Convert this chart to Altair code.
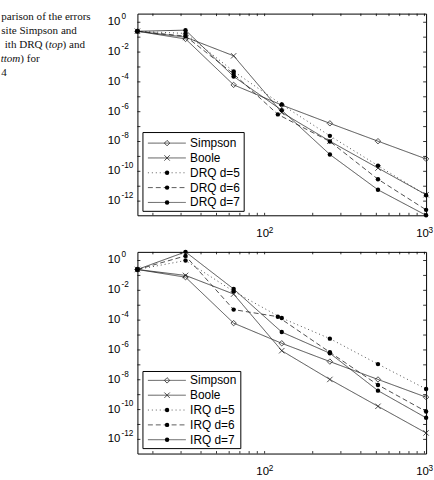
import altair as alt
import pandas as pd

# ---------------- data ----------------
N = [16, 32, 64, 128, 256, 512, 1024]
N121 = [16, 32, 64, 121, 256, 512, 1024]

simpson = [0.25, 0.076, 6.3e-5, 2.8e-6, 1.66e-7, 1.05e-8, 6.8e-10]
boole = [0.25, 0.10, 5.6e-3, 8.9e-7, 1.05e-8, 1.66e-10, 2.7e-12]

drq5 = [0.25, 0.178, 5.1e-4, 3.0e-6, 2.4e-8, 2.4e-10, 2.5e-12]
drq6 = [0.25, 0.117, 3.4e-4, 6.6e-7, 1.0e-8, 2.95e-11, 2.6e-13]
drq7 = [0.25, 0.295, 2.3e-4, 1.26e-6, 1.35e-9, 5.75e-12, 1.12e-13]

irq5 = [0.25, 1.0, 8.5e-3, 1.38e-4, 5.75e-6, 1.12e-7, 2.4e-9]
irq6 = [0.25, 2.04, 5.1e-4, 1.7e-4, 7.0e-7, 4.5e-9, 7.4e-11]
irq7 = [0.25, 3.8, 1.23e-2, 1.58e-5, 6.0e-7, 1.86e-9, 2.8e-11]

top_labels = ["Simpson", "Boole", "DRQ d=5", "DRQ d=6", "DRQ d=7"]
bot_labels = ["Simpson", "Boole", "IRQ d=5", "IRQ d=6", "IRQ d=7"]

y_label_exps = [0, -2, -4, -6, -8, -10, -12]
x_label_vals = [100, 1000]
x_label_sups = ["2", "3"]
x_grid = [20, 30, 40, 50, 60, 70, 80, 90, 100, 200, 300, 400, 500, 600, 700, 800, 900, 1000]
y_decades = [0, -1, -2, -3, -4, -5, -6, -7, -8, -9, -10, -11, -12]

caption = [
    ("parison of the errors", "normal", "left", 0.0, 17.3),
    ("site Simpson and", "normal", "left", 0.0, 31.5),
    ("ith DRQ (", "normal", "left", 3.5, 45.7),
    ("top", "italic", "left", 48.0, 45.7),
    (") and", "normal", "left", 62.0, 45.7),
    ("ttom", "italic", "right", 19.3, 60.0),
    (") for", "normal", "left", 19.3, 60.0),
    ("4", "normal", "left", 0.0, 74.0),
]

# ---------------- layout / style ----------------
W, H = 292, 204
OX, OY = 137.7, 10.7
FONT = "Liberation Sans"
LINE = "#222222"
SOLID, DOT, DASHED = [1, 0], [1, 3], [5, 3]
STYLES = [SOLID, SOLID, DOT, DASHED, SOLID]
KINDS = ["diamond", "x", "dot", "dot", "dot"]
XPATH = "M-1,-1L1,1M1,-1L-1,1"

xscale = alt.Scale(type="log", domain=[16, 1024], nice=False)
yscale = alt.Scale(type="log", domain=[10 ** -12.95, 10 ** 0.58], nice=False)

one = pd.DataFrame({"a": [0]})


def marker(data, kind):
    if kind == "diamond":
        return alt.Chart(data).mark_point(shape="diamond", size=30, color=LINE, filled=False,
                                          strokeWidth=0.8, opacity=1, clip=False)
    if kind == "x":
        return alt.Chart(data).mark_point(shape=XPATH, size=30, color=LINE, filled=False,
                                          strokeWidth=0.8, opacity=1, clip=False)
    return alt.Chart(data).mark_circle(size=20, color="black", opacity=1, clip=False)


def panel(series, labels, box, rows_top, with_caption):
    x_main = alt.X("n:Q", scale=xscale, title="",
                   axis=alt.Axis(values=x_grid, grid=True, labels=False, ticks=False,
                                 domain=False, gridDash=[1, 3], gridColor="#8a8a8a",
                                 gridWidth=0.7))
    y_main = alt.Y("err:Q", scale=yscale, title="",
                   axis=alt.Axis(values=[10.0 ** e for e in y_label_exps], grid=True,
                                 labels=False, ticks=False, domain=False, gridDash=[1, 3],
                                 gridColor="#8a8a8a", gridWidth=0.7))
    xq = alt.X("n:Q", scale=xscale, axis=None)
    yq = alt.Y("err:Q", scale=yscale, axis=None)

    layers = []
    # series lines (one layer each, own dash style)
    for i, (name, xs, ys) in enumerate(series):
        d = pd.DataFrame({"n": xs, "err": ys})
        enc = dict(x=x_main, y=y_main) if i == 0 else dict(x=xq, y=yq)
        layers.append(alt.Chart(d).mark_line(color=LINE, strokeWidth=0.8,
                                             strokeDash=STYLES[i], clip=False).encode(**enc))
    for i, (name, xs, ys) in enumerate(series):
        d = pd.DataFrame({"n": xs, "err": ys})
        layers.append(marker(d, KINDS[i]).encode(x=xq, y=yq))

    # inner tick marks
    xt = pd.DataFrame({"t": x_grid})
    for y0, sgn in ((H, -1), (0, 1)):
        layers.append(alt.Chart(xt).mark_rule(color="black", strokeWidth=0.8).encode(
            x=alt.X("t:Q", scale=xscale, axis=None), y=alt.value(y0),
            y2=alt.value(y0 + sgn * 2.5)))
    yt = pd.DataFrame({"v": [10.0 ** e for e in y_decades]})
    for x0, sgn in ((0, 1), (W, -1)):
        layers.append(alt.Chart(yt).mark_rule(color="black", strokeWidth=0.8).encode(
            y=alt.Y("v:Q", scale=yscale, axis=None), x=alt.value(x0),
            x2=alt.value(x0 + sgn * 3)))

    # y tick labels 10^k
    ylab = pd.DataFrame({"v": [10.0 ** e for e in y_label_exps],
                         "sup": [str(e) for e in y_label_exps]})
    layers.append(alt.Chart(ylab).mark_text(align="left", baseline="middle", font=FONT,
                                            fontSize=11.5, color="black", text="10")
                  .encode(y=alt.Y("v:Q", scale=yscale, axis=None), x=alt.value(-30)))
    layers.append(alt.Chart(ylab).mark_text(align="left", baseline="middle", font=FONT,
                                            fontSize=8.3, color="black", dy=-5.2)
                  .encode(y=alt.Y("v:Q", scale=yscale, axis=None), x=alt.value(-16.2),
                          text="sup:N"))
    # x tick labels
    xlab = pd.DataFrame({"v": x_label_vals, "sup": x_label_sups})
    layers.append(alt.Chart(xlab).mark_text(align="center", baseline="alphabetic", font=FONT,
                                            fontSize=11.5, color="black", text="10", dx=-2)
                  .encode(x=alt.X("v:Q", scale=xscale, axis=None), y=alt.value(H + 21.7)))
    layers.append(alt.Chart(xlab).mark_text(align="left", baseline="alphabetic", font=FONT,
                                            fontSize=8.3, color="black", dx=4.2)
                  .encode(x=alt.X("v:Q", scale=xscale, axis=None), y=alt.value(H + 18),
                          text="sup:N"))

    # legend box
    bx0, by0, bx1, by1 = box
    layers.append(alt.Chart(one).mark_rect(fill="white", stroke="black", strokeWidth=1)
                  .encode(x=alt.value(bx0), x2=alt.value(bx1), y=alt.value(by0),
                          y2=alt.value(by1)))
    for i, lab in enumerate(labels):
        ry = rows_top + 15 * i
        layers.append(alt.Chart(one).mark_rule(color="#333333", strokeWidth=0.8,
                                               strokeDash=STYLES[i])
                      .encode(x=alt.value(10.6), x2=alt.value(49), y=alt.value(ry)))
        layers.append(marker(one, KINDS[i]).encode(x=alt.value(30), y=alt.value(ry)))
        layers.append(alt.Chart(one).mark_text(align="left", baseline="middle", font=FONT,
                                               fontSize=12, color="black", text=lab)
                      .encode(x=alt.value(53.3), y=alt.value(ry)))

    if with_caption:
        for txt, style, align, cx, cy in caption:
            layers.append(alt.Chart(one).mark_text(align=align, baseline="alphabetic",
                                                   font="Liberation Serif", fontSize=11.2,
                                                   fontStyle=style, color="#111111",
                                                   text=txt)
                          .encode(x=alt.value(cx - OX), y=alt.value(cy - OY)))

    return alt.layer(*layers).properties(width=W, height=H)


top = panel(
    [("Simpson", N, simpson), ("Boole", N, boole), ("DRQ d=5", N, drq5),
     ("DRQ d=6", N121, drq6), ("DRQ d=7", N, drq7)],
    top_labels, (5.6, 120.3, 108, 200), 131, True)
bottom = panel(
    [("Simpson", N, simpson), ("Boole", N, boole), ("IRQ d=5", N, irq5),
     ("IRQ d=6", N121, irq6), ("IRQ d=7", N, irq7)],
    bot_labels, (5.6, 121, 104.6, 199), 130, False)

chart = alt.vconcat(top, bottom, spacing=37, bounds="flush").properties(
    padding={"left": 0, "top": 8, "right": 0, "bottom": 0}
).configure_view(stroke="black", strokeWidth=1)

chart.save("out.html", embed_options={"renderer": "svg", "actions": False})
